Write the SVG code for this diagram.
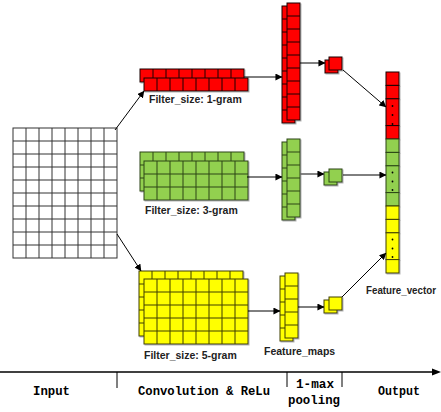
<svg xmlns="http://www.w3.org/2000/svg" width="441" height="412" viewBox="0 0 441 412">
<defs>
<marker id="ah" viewBox="0 0 8 8" refX="7.5" refY="4" markerWidth="7" markerHeight="7" markerUnits="userSpaceOnUse" orient="auto">
<path d="M0 0L8 4L0 8z" fill="#000"/>
</marker>
<filter id="sh" x="-20%" y="-20%" width="140%" height="140%">
<feDropShadow dx="1" dy="1" stdDeviation="0.4" flood-color="#808080" flood-opacity="0.6"/>
</filter>
</defs>
<style>
.red{fill:#FF0000;stroke:#1a0000;stroke-width:1}
.grn{fill:#92D050;stroke:#2a4414;stroke-width:1}
.yel{fill:#FFFF00;stroke:#3f3f00;stroke-width:1}
.lr{fill:none;stroke:#1a0000;stroke-width:1}
.lg{fill:none;stroke:#2a4414;stroke-width:1}
.ly{fill:none;stroke:#3f3f00;stroke-width:1}
.blk{filter:url(#sh)}
.lbl{font-family:"Liberation Sans",Arial,sans-serif;font-weight:bold;font-size:10.5px;fill:#222}
.ax{font-family:"Liberation Mono","Courier New",monospace;font-weight:bold;font-size:13px;fill:#000}
.cn{fill:none;stroke:#000;stroke-width:1;marker-end:url(#ah)}
.cg{fill:none;stroke:#666;stroke-width:1.6;marker-end:url(#ah)}
.dot{fill:#000}
</style>

<g id="input">
<rect x="13" y="128" width="104" height="130" fill="#fff" stroke="#333" stroke-width="1"/>
<path d="M26 128V258M39 128V258M52 128V258M65 128V258M78 128V258M91 128V258M104 128V258M13 141H117M13 154H117M13 167H117M13 180H117M13 193H117M13 206H117M13 219H117M13 232H117M13 245H117" fill="none" stroke="#333" stroke-width="1"/>
</g>

<g id="filter1" class="blk">
<rect class="red" x="140" y="69" width="104" height="13"/>
<path class="lr" d="M153 69v13M166 69v13M179 69v13M192 69v13M205 69v13M218 69v13M231 69v13"/>
<rect class="red" x="144" y="78" width="104" height="13"/>
<path class="lr" d="M157 78v13M170 78v13M183 78v13M196 78v13M209 78v13M222 78v13M235 78v13"/>
</g>
<text class="lbl" x="149" y="103">Filter_size: 1-gram</text>

<g id="filter3" class="blk">
<rect class="grn" x="140" y="152" width="104" height="39"/>
<path class="lg" d="M153 152v39M166 152v39M179 152v39M192 152v39M205 152v39M218 152v39M231 152v39M140 165h104M140 178h104"/>
<rect class="grn" x="144" y="161" width="104" height="39"/>
<path class="lg" d="M157 161v39M170 161v39M183 161v39M196 161v39M209 161v39M222 161v39M235 161v39M144 174h104M144 187h104"/>
</g>
<text class="lbl" x="145" y="214">Filter_size: 3-gram</text>

<g id="filter5" class="blk">
<rect class="yel" x="139" y="271" width="104" height="65"/>
<path class="ly" d="M152 271v65M165 271v65M178 271v65M191 271v65M204 271v65M217 271v65M230 271v65M139 284h104M139 297h104M139 310h104M139 323h104"/>
<rect class="yel" x="144" y="279" width="104" height="65"/>
<path class="ly" d="M157 279v65M170 279v65M183 279v65M196 279v65M209 279v65M222 279v65M235 279v65M144 292h104M144 305h104M144 318h104M144 331h104"/>
</g>
<text class="lbl" x="144" y="359">Filter_size: 5-gram</text>

<g id="map1" class="blk">
<rect class="red" x="282" y="6" width="13" height="117"/>
<path class="lr" d="M282 19h13M282 32h13M282 45h13M282 58h13M282 71h13M282 84h13M282 97h13M282 110h13"/>
<rect class="red" x="287" y="3" width="13" height="117"/>
<path class="lr" d="M287 16h13M287 29h13M287 42h13M287 55h13M287 68h13M287 81h13M287 94h13M287 107h13"/>
</g>

<g id="map3" class="blk">
<rect class="grn" x="282" y="142" width="13" height="78"/>
<path class="lg" d="M282 155h13M282 168h13M282 181h13M282 194h13M282 207h13"/>
<rect class="grn" x="287" y="139" width="13" height="78"/>
<path class="lg" d="M287 152h13M287 165h13M287 178h13M287 191h13M287 204h13"/>
</g>

<g id="map5" class="blk">
<rect class="yel" x="280" y="276" width="13" height="65"/>
<path class="ly" d="M280 289h13M280 302h13M280 315h13M280 328h13"/>
<rect class="yel" x="285" y="273" width="13" height="65"/>
<path class="ly" d="M285 286h13M285 299h13M285 312h13M285 325h13"/>
</g>
<text class="lbl" x="264" y="355">Feature_maps</text>

<g id="pool1" class="blk">
<rect class="red" x="325" y="60" width="13" height="13"/>
<rect class="red" x="329" y="57" width="13" height="13"/>
</g>
<g id="pool3" class="blk">
<rect class="grn" x="324" y="172" width="13" height="13"/>
<rect class="grn" x="329" y="169" width="13" height="13"/>
</g>
<g id="pool5" class="blk">
<rect class="yel" x="324" y="300" width="13" height="13"/>
<rect class="yel" x="329" y="297" width="13" height="13"/>
</g>

<g id="vector" class="blk">
<rect class="red" x="386" y="72" width="13" height="13.4"/>
<rect class="red" x="386" y="85.4" width="13" height="13.4"/>
<rect class="red" x="386" y="98.8" width="13" height="26.8"/>
<rect class="red" x="386" y="125.6" width="13" height="13.4"/>
<rect class="grn" x="386" y="139" width="13" height="13.4"/>
<rect class="grn" x="386" y="152.4" width="13" height="13.4"/>
<rect class="grn" x="386" y="165.8" width="13" height="26.8"/>
<rect class="grn" x="386" y="192.6" width="13" height="13.4"/>
<rect class="yel" x="386" y="206" width="13" height="13.4"/>
<rect class="yel" x="386" y="219.4" width="13" height="13.4"/>
<rect class="yel" x="386" y="232.8" width="13" height="26.8"/>
<rect class="yel" x="386" y="259.6" width="13" height="13.4"/>
<circle class="dot" cx="392.5" cy="106" r="0.9"/>
<circle class="dot" cx="392.5" cy="115" r="0.9"/>
<circle class="dot" cx="392.5" cy="124" r="0.9"/>
<circle class="dot" cx="392.5" cy="172.5" r="0.9"/>
<circle class="dot" cx="392.5" cy="181.5" r="0.9"/>
<circle class="dot" cx="392.5" cy="190" r="0.9"/>
<circle class="dot" cx="392.5" cy="239.5" r="0.9"/>
<circle class="dot" cx="392.5" cy="248.5" r="0.9"/>
<circle class="dot" cx="392.5" cy="257" r="0.9"/>
</g>
<text class="lbl" x="366" y="294" textLength="70" lengthAdjust="spacingAndGlyphs">Feature_vector</text>

<g id="connectors">
<path class="cn" d="M115 130L144 91"/>
<path class="cn" d="M117 234L141 271"/>
<path class="cn" d="M244 77H282"/>
<path class="cn" d="M300 63H325"/>
<path class="cn" d="M343 70L386 107"/>
<path class="cn" d="M247 177H282"/>
<path class="cg" d="M300 174H324"/>
<path class="cn" d="M343 175H386"/>
<path class="cn" d="M248 311H280"/>
<path class="cn" d="M298 307H324"/>
<path class="cn" d="M342 297L386 253"/>
</g>

<g id="axis">
<path d="M0 372H434" fill="none" stroke="#000" stroke-width="1.3"/>
<path d="M441 372L432 368.5V375.5z" fill="#000"/>
<path d="M117 372V388M287 372V387M342 372V387" fill="none" stroke="#000" stroke-width="1"/>
<text class="ax" x="33" y="395" textLength="37" lengthAdjust="spacingAndGlyphs">Input</text>
<text class="ax" x="138" y="395" textLength="132" lengthAdjust="spacingAndGlyphs">Convolution &amp; ReLu</text>
<text class="ax" x="296" y="388" textLength="38" lengthAdjust="spacingAndGlyphs">1-max</text>
<text class="ax" x="288" y="404" textLength="52" lengthAdjust="spacingAndGlyphs">pooling</text>
<text class="ax" x="378" y="395" textLength="42" lengthAdjust="spacingAndGlyphs">Output</text>
</g>
</svg>
